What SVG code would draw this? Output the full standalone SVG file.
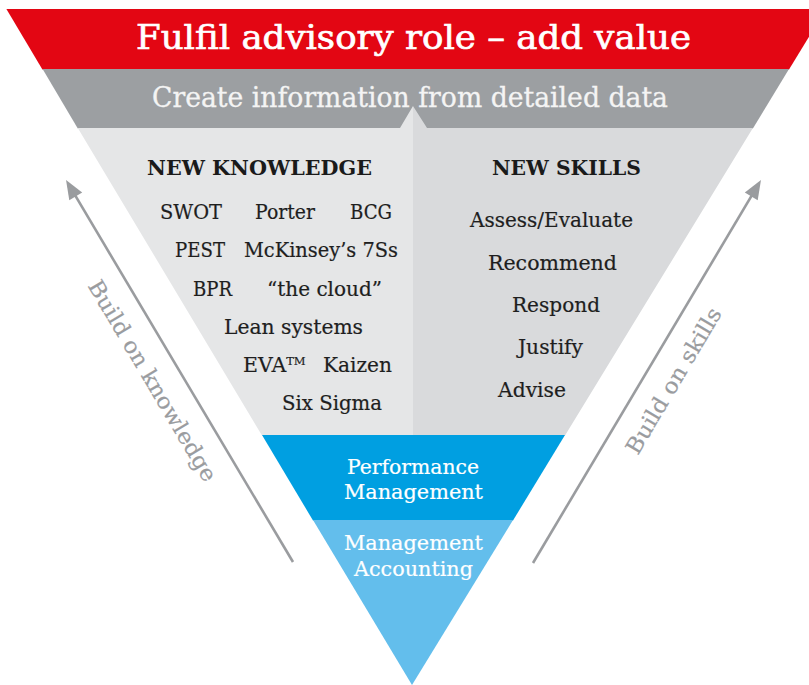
<svg xmlns="http://www.w3.org/2000/svg" width="809" height="685" viewBox="0 0 809 685">
  <style>
    text { font-family: "DejaVu Serif", "Liberation Serif", serif; }
    .title { fill: #ffffff; font-size: 34px; stroke: #ffffff; stroke-width: 0.7px; }
    .sub { fill: #f4f4f4; font-size: 27px; stroke: #f4f4f4; stroke-width: 0.3px; }
    .head { fill: #1a1a1a; font-size: 20px; font-weight: bold; }
    .item { fill: #1e1e1e; font-size: 20.5px; stroke: #1e1e1e; stroke-width: 0.2px; }
    .level { fill: #ffffff; font-size: 20px; stroke: #ffffff; stroke-width: 0.2px; }
    .side { fill: #9a9c9f; font-size: 22px; stroke: #9a9c9f; stroke-width: 0.2px; }
    .arrow { stroke: #9a9c9f; stroke-width: 2.6; fill: none; }
  </style>
  <defs>
    <marker id="head" markerUnits="userSpaceOnUse" viewBox="-14 -8 22 16" markerWidth="22" markerHeight="16" refX="0" refY="0" orient="auto">
      <path d="M6,0 L-13,-7.5 L-13,7.5 Z" fill="#9a9c9f"/>
    </marker>
  </defs>
  <rect width="809" height="685" fill="#ffffff"/>

  <g id="band-advisory">
    <polygon points="6.4,9 826,9 789,69.5 42.4,69.5" fill="#e30613"/>
    <text class="title" x="136" y="49" textLength="555" lengthAdjust="spacingAndGlyphs">Fulfil advisory role – add value</text>
  </g>

  <g id="band-information">
    <polygon points="42.6,69 789,69 752.9,128.5 77.8,128.5" fill="#9c9fa2"/>
    <text class="sub" x="152" y="107" textLength="516" lengthAdjust="spacingAndGlyphs">Create information from detailed data</text>
  </g>

  <g id="panel-knowledge">
    <polygon points="77.8,128 400,128 413,106 413,435.5 262,435.5" fill="#e5e6e7"/>
    <text class="head" x="147" y="175" textLength="225" lengthAdjust="spacingAndGlyphs">NEW KNOWLEDGE</text>
    <text class="item" x="160" y="219" textLength="62" lengthAdjust="spacingAndGlyphs">SWOT</text>
    <text class="item" x="255" y="219" textLength="60" lengthAdjust="spacingAndGlyphs">Porter</text>
    <text class="item" x="350" y="219" textLength="42" lengthAdjust="spacingAndGlyphs">BCG</text>
    <text class="item" x="175" y="257" textLength="50" lengthAdjust="spacingAndGlyphs">PEST</text>
    <text class="item" x="244" y="257" textLength="154" lengthAdjust="spacingAndGlyphs">McKinsey’s 7Ss</text>
    <text class="item" x="193" y="296" textLength="39" lengthAdjust="spacingAndGlyphs">BPR</text>
    <text class="item" x="267" y="296" textLength="115" lengthAdjust="spacingAndGlyphs">“the cloud”</text>
    <text class="item" x="224" y="334" textLength="139" lengthAdjust="spacingAndGlyphs">Lean systems</text>
    <text class="item" x="243" y="372">EVA<tspan font-size="11.5px" dy="-7">TM</tspan></text>
    <text class="item" x="323" y="372" textLength="69" lengthAdjust="spacingAndGlyphs">Kaizen</text>
    <text class="item" x="282" y="410" textLength="100" lengthAdjust="spacingAndGlyphs">Six Sigma</text>
  </g>

  <g id="panel-skills">
    <polygon points="413,106 427,128 752.9,128 565,435.5 413,435.5" fill="#d9dadc"/>
    <text class="head" x="492" y="175" textLength="149" lengthAdjust="spacingAndGlyphs">NEW SKILLS</text>
    <text class="item" x="470" y="227" textLength="163" lengthAdjust="spacingAndGlyphs">Assess/Evaluate</text>
    <text class="item" x="488" y="270" textLength="129" lengthAdjust="spacingAndGlyphs">Recommend</text>
    <text class="item" x="512" y="312" textLength="88" lengthAdjust="spacingAndGlyphs">Respond</text>
    <text class="item" x="518" y="354" textLength="65" lengthAdjust="spacingAndGlyphs">Justify</text>
    <text class="item" x="498" y="397" textLength="68" lengthAdjust="spacingAndGlyphs">Advise</text>
  </g>

  <g id="level-performance">
    <polygon points="262,435 565,435 513,520.5 313,520.5" fill="#009fe1"/>
    <text class="level" x="347" y="474" textLength="132" lengthAdjust="spacingAndGlyphs">Performance</text>
    <text class="level" x="344" y="499" textLength="139" lengthAdjust="spacingAndGlyphs">Management</text>
  </g>

  <g id="level-accounting">
    <polygon points="313,520 513,520 412,685" fill="#63beec"/>
    <text class="level" x="344" y="550" textLength="139" lengthAdjust="spacingAndGlyphs">Management</text>
    <text class="level" x="354" y="576" textLength="119" lengthAdjust="spacingAndGlyphs">Accounting</text>
  </g>

  <g id="connectors">
    <line class="arrow" x1="293" y1="562" x2="69.1" y2="185.2" marker-end="url(#head)"/>
    <line class="arrow" x1="533" y1="563" x2="757.9" y2="185.2" marker-end="url(#head)"/>
  </g>

  <g id="side-labels">
    <text class="side" transform="translate(152,381) rotate(59.3)" x="-115" y="7" textLength="230" lengthAdjust="spacingAndGlyphs">Build on knowledge</text>
    <text class="side" transform="translate(674,381) rotate(-59.3)" x="-83" y="7" textLength="166" lengthAdjust="spacingAndGlyphs">Build on skills</text>
  </g>
</svg>
